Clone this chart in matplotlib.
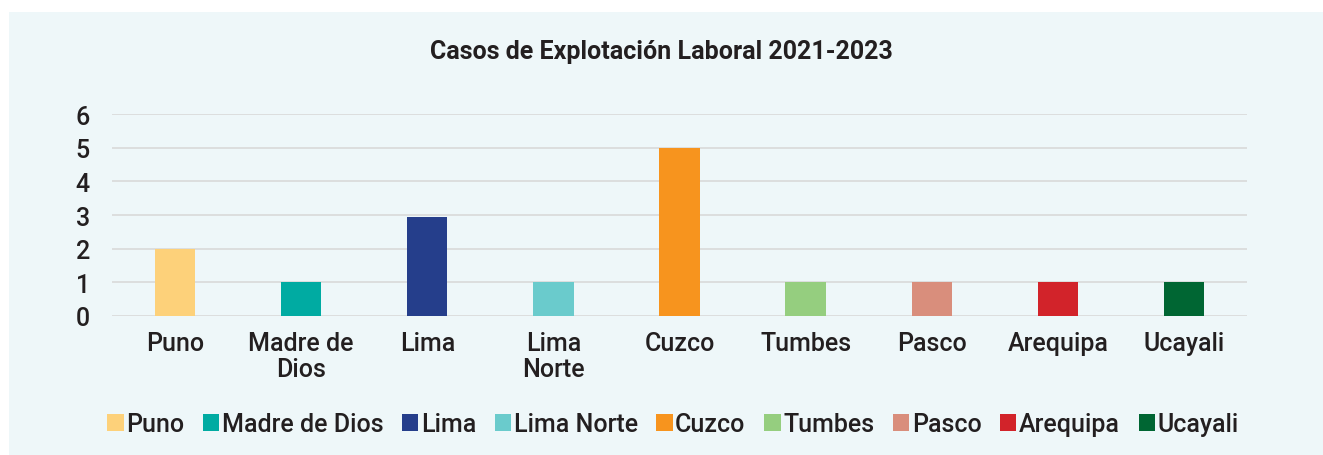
import numpy as np
import matplotlib.pyplot as plt
from matplotlib.patches import Rectangle

# datos
regiones = ['Puno', 'Madre de Dios', 'Lima', 'Lima Norte', 'Cuzco',
            'Tumbes', 'Pasco', 'Arequipa', 'Ucayali']
etiquetas = ['Puno', 'Madre de\nDios', 'Lima', 'Lima\nNorte', 'Cuzco',
             'Tumbes', 'Pasco', 'Arequipa', 'Ucayali']
casos = [2, 1, 2.95, 1, 5, 1, 1, 1, 1]
colores = ['#FDD17A', '#00ABA2', '#253E8B', '#6ACBCC', '#F7941E',
           '#95CE7F', '#D98E7C', '#D2232A', '#006633']

plt.rcParams['font.family'] = ['Roboto', 'DejaVu Sans']
plt.rcParams['font.weight'] = 500
texto = '#231F20'
fondo = '#EEF7F9'

fig = plt.figure(figsize=(13.23, 4.56), dpi=100)
fig.patch.set_facecolor('white')
fig.patches.append(Rectangle((9 / 1323, 0), 1, 1 - 13 / 456,
                             transform=fig.transFigure, facecolor=fondo,
                             edgecolor='none', zorder=-10))

ax = fig.add_axes([112 / 1323, 1 - 317 / 456, (1247 - 112) / 1323, (317 - 115) / 456])
ax.set_facecolor(fondo)

x = np.arange(len(regiones))
barras = ax.bar(x, casos, width=0.32, color=colores, zorder=3)

ax.set_ylim(0, 6)
ax.set_xlim(-0.5, len(regiones) - 0.5)
ax.set_yticks(range(0, 7))
ax.set_xticks(x)
ax.set_xticklabels(etiquetas, fontsize=18, color=texto, linespacing=1.1)
ax.tick_params(axis='y', labelsize=18, labelcolor=texto, length=0, pad=16)
ax.tick_params(axis='x', length=0, pad=11)
ax.grid(axis='y', color='#D9D9D9', linewidth=1.2, zorder=0)
for s in ax.spines.values():
    s.set_visible(False)

fig.text(0.5, 1 - 52 / 456, 'Casos de Explotación Laboral 2021-2023',
         ha='center', va='center', fontsize=18, fontweight='bold', color=texto)

leg = fig.legend(barras, regiones, loc='center', ncol=9,
                 bbox_to_anchor=(673 / 1323, 1 - 425 / 456), frameon=False,
                 fontsize=18, handlelength=0.65, handleheight=0.65,
                 handletextpad=0.1, columnspacing=0.75, labelcolor=texto)

fig.savefig('out.png', dpi=100, facecolor=fig.get_facecolor())
